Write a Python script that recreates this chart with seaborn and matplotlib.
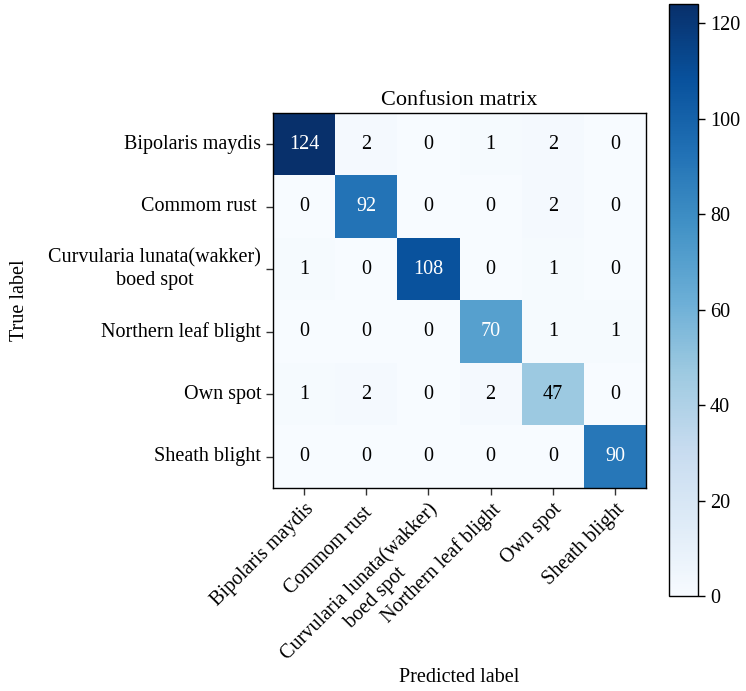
import numpy as np
import pandas as pd
import seaborn as sns
import matplotlib
matplotlib.use("Agg")
import matplotlib.pyplot as plt

classes = ["Bipolaris maydis", "Commom rust ", "Curvularia lunata(wakker)\nboed spot",
           "Northern leaf blight", "Own spot", "Sheath blight"]
row_bipolaris = [124, 2, 0, 1, 2, 0]
row_rust = [0, 92, 0, 0, 2, 0]
row_curvularia = [1, 0, 108, 0, 1, 0]
row_northern = [0, 0, 0, 70, 1, 1]
row_own = [1, 2, 0, 2, 47, 0]
row_sheath = [0, 0, 0, 0, 0, 90]
cbar_ticks = [0, 20, 40, 60, 80, 100, 120]

cm = pd.DataFrame([row_bipolaris, row_rust, row_curvularia, row_northern, row_own, row_sheath],
                  index=classes, columns=classes)

plt.rcParams['font.family'] = ['Liberation Serif', 'DejaVu Serif']
fs = 14.5

fig = plt.figure(figsize=(7.46, 6.91), dpi=100)
ax = fig.add_axes([0.366, 0.2938, 0.5, 0.5427])
cax = fig.add_axes([0.8968, 0.1375, 0.0389, 0.8567])

sns.heatmap(cm, ax=ax, cbar_ax=cax, cmap="Blues", vmin=0, vmax=cm.values.max(),
            annot=True, fmt="d", annot_kws={"fontsize": fs}, cbar_kws={"ticks": cbar_ticks})

thresh = cm.values.max() / 2.0
for t in ax.texts:
    v = int(t.get_text())
    t.set_color("white" if v > thresh else "black")

for s in ax.spines.values():
    s.set_visible(True)
    s.set_color("black")
    s.set_linewidth(1.0)

ax.set_xticklabels(classes, rotation=45, ha="right", va="top",
                   rotation_mode="anchor", fontsize=fs)
for lbl in ax.get_xticklabels():
    lbl.set_multialignment("center")
ax.set_yticklabels(classes, rotation=0, fontsize=fs)
for lbl in ax.get_yticklabels():
    lbl.set_multialignment("center")
ax.tick_params(axis="both", length=5, width=1, color="#333333")

ax.set_title("Confusion matrix", fontsize=16)
ax.set_ylabel("True label", fontsize=fs)
ax.set_xlabel("Predicted label", fontsize=fs)
ax.yaxis.set_label_coords(-0.654, 0.5)
ax.xaxis.set_label_coords(0.5, -0.48)

cax.tick_params(labelsize=fs, length=5, width=1)
cbar = ax.collections[0].colorbar
cbar.outline.set_visible(True)
cbar.outline.set_edgecolor("black")
cbar.outline.set_linewidth(1.0)

fig.savefig("out.png", dpi=100)
